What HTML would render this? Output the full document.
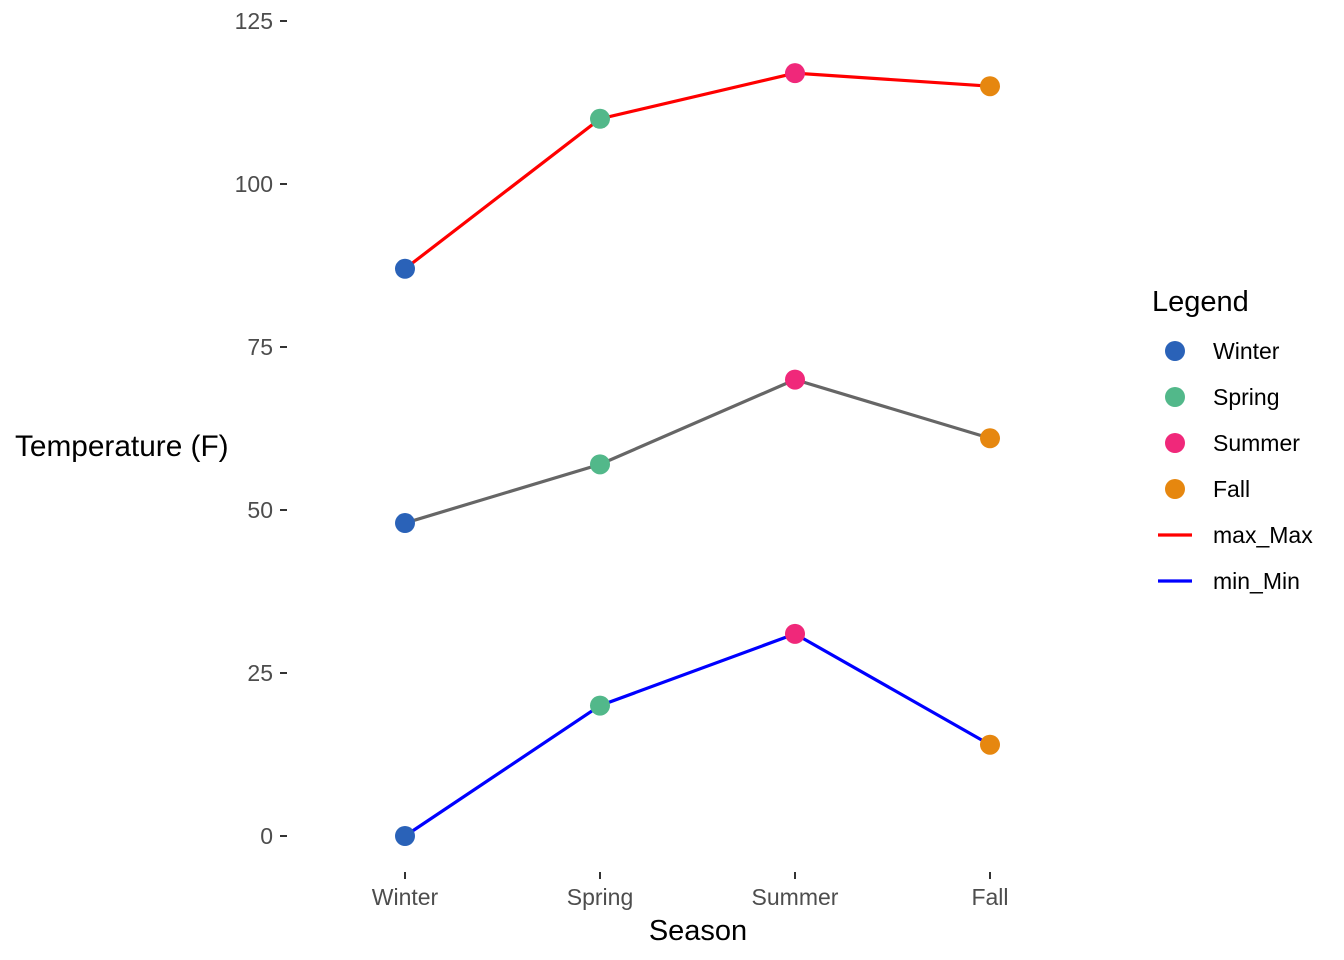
<!DOCTYPE html>
<html><head><meta charset="utf-8"><style>
html,body{margin:0;padding:0;background:#fff;}
svg{display:block;font-family:"Liberation Sans",Arial,sans-serif;}
</style></head><body>
<svg id="chart" width="1344" height="960" viewBox="0 0 1344 960" xmlns="http://www.w3.org/2000/svg">
<g id="yaxis"></g>
<g id="xaxis"></g>
<g id="lines"></g>
<g id="points"></g>
<text x="698" y="940" font-size="29" text-anchor="middle" fill="#000">Season</text>
<text x="15" y="456" font-size="29.8" fill="#000">Temperature (F)</text>
<g id="legend">
<text x="1152" y="311" font-size="29" fill="#000">Legend</text>
</g>
</svg>
<script>
const seasons = ["Winter","Spring","Summer","Fall"];
const maxVals = [87,110,117,115];
const meanVals = [48,57,70,61];
const minVals = [0,20,31,14];
const yTicks = [0,25,50,75,100,125];
const seasonColors = ["#2a62b8","#52b88a","#f0287a","#e6870f"];

const NS="http://www.w3.org/2000/svg";
function x(i){return 405+i*195;}
function y(v){return 836-v*(815/125);}
function mk(tag,attrs,parent){const e=document.createElementNS(NS,tag);for(const k in attrs)e.setAttribute(k,attrs[k]);parent.appendChild(e);return e;}

const ya=document.getElementById('yaxis');
yTicks.forEach(t=>{
  const l=mk('line',{x1:280,x2:287,y1:y(t),y2:y(t),stroke:'#333','stroke-width':2},ya);
  
  
  const tx=mk('text',{x:273,y:y(t)+8,'font-size':23,'text-anchor':'end',fill:'#4d4d4d'},ya);
  tx.textContent=t;
  
  
});
const xa=document.getElementById('xaxis');
seasons.forEach((s,i)=>{
  const l=mk('line',{x1:x(i),x2:x(i),y1:872,y2:879,stroke:'#333','stroke-width':2},xa);
  
  
  const tx=mk('text',{x:x(i),y:905,'font-size':23,'text-anchor':'middle',fill:'#4d4d4d'},xa);
  tx.textContent=s;
  
  
});
const lg=document.getElementById('lines'), pg=document.getElementById('points');
[[maxVals,'#ff0000','max-line'],[meanVals,'#666666','mean-line'],[minVals,'#0000ff','min-line']].forEach(([vals,c,n])=>{
  const p=mk('polyline',{points:vals.map((v,i)=>x(i)+','+y(v)).join(' '),fill:'none',stroke:c,'stroke-width':3.2},lg);
  
  
  vals.forEach((v,i)=>{
    const ci=mk('circle',{cx:x(i),cy:y(v),r:10,fill:seasonColors[i]},pg);
    
    
  });
});
const leg=document.getElementById('legend');
const legItems=[["Winter",seasonColors[0],'pt'],["Spring",seasonColors[1],'pt'],["Summer",seasonColors[2],'pt'],["Fall",seasonColors[3],'pt'],["max_Max","#ff0000",'ln'],["min_Min","#0000ff",'ln']];
legItems.forEach((it,k)=>{
  const cy=351+k*46;
  if(it[2]==='pt'){
    const c=mk('circle',{cx:1175,cy:cy,r:10,fill:it[1]},leg);
    
    
  } else {
    const l=mk('line',{x1:1158,x2:1192,y1:cy,y2:cy,stroke:it[1],'stroke-width':3.2},leg);
    
    
  }
  const t=mk('text',{x:1213,y:cy+8,'font-size':23,fill:'#000'},leg);
  t.textContent=it[0];
  
  
});
</script>
</body></html>
